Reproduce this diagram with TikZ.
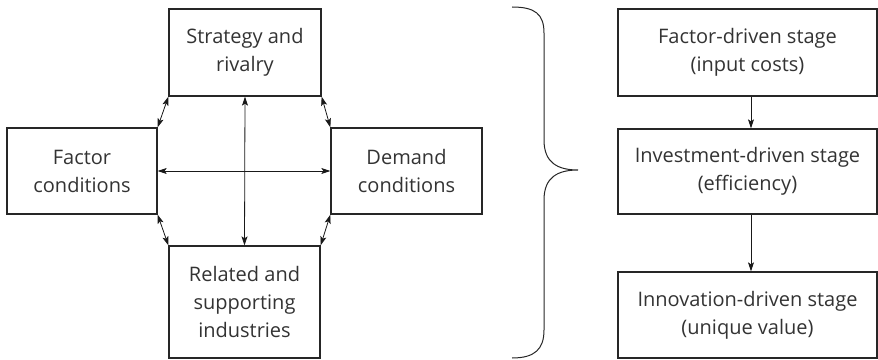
\documentclass[tikz,border=0pt]{standalone}
\usepackage{fontspec}
\setmainfont{Open Sans}
\usetikzlibrary{arrows.meta}
\begin{document}
\begin{tikzpicture}[x=1pt,y=1pt,
  box/.style={draw=black!85,line width=1.3pt,rectangle,inner sep=0pt,align=center,
    text=black!80,font=\fontsize{20}{28}\selectfont},
  tip/.tip={Stealth[length=9pt,width=6pt,inset=2pt]},
  link/.style={draw=black!90,line width=0.8pt,-tip},
  dlink/.style={draw=black!90,line width=0.8pt,tip-tip}]
\useasboundingbox (0,0) rectangle (878,359);
% left diamond of boxes
\node[box,minimum width=152,minimum height=87] (strat) at (245,306.5) {Strategy and\\rivalry};
\node[box,minimum width=150,minimum height=86] (factor) at (82,188) {Factor\\conditions};
\node[box,minimum width=151,minimum height=86] (demand) at (406.5,188) {Demand\\conditions};
\node[box,minimum width=151,minimum height=112] (related) at (244.5,57) {Related and\\supporting\\industries};
\draw[dlink] (factor.east) -- (demand.west);
\draw[dlink] (strat.south) -- (related.north);
\draw[dlink] (strat.south west) -- (factor.north east);
\draw[dlink] (strat.south east) -- (demand.north west);
\draw[dlink] (related.north west) -- (factor.south east);
\draw[dlink] (related.north east) -- (demand.south west);
% brace
\draw[black!85,line width=1pt] (512,352) .. controls (535,352) and (544,345) .. (544,326)
  -- (544,219) .. controls (544,196) and (558,189) .. (578,189)
  .. controls (558,189) and (544,182) .. (544,159)
  -- (544,29) .. controls (544,10) and (535,1) .. (512,1);
% right stages
\node[box,minimum width=259,minimum height=87] (s1) at (747.5,306.5) {Factor-driven stage\\(input costs)};
\node[box,minimum width=259,minimum height=85] (s2) at (747.5,187.5) {Investment-driven stage\\(efficiency)};
\node[box,minimum width=259,minimum height=86] (s3) at (747.5,44) {Innovation-driven stage\\(unique value)};
\draw[link] ([xshift=3.5pt]s1.south) -- ([xshift=3.5pt]s2.north);
\draw[link] ([xshift=3.5pt]s2.south) -- ([xshift=3.5pt]s3.north);
\end{tikzpicture}
\end{document}
